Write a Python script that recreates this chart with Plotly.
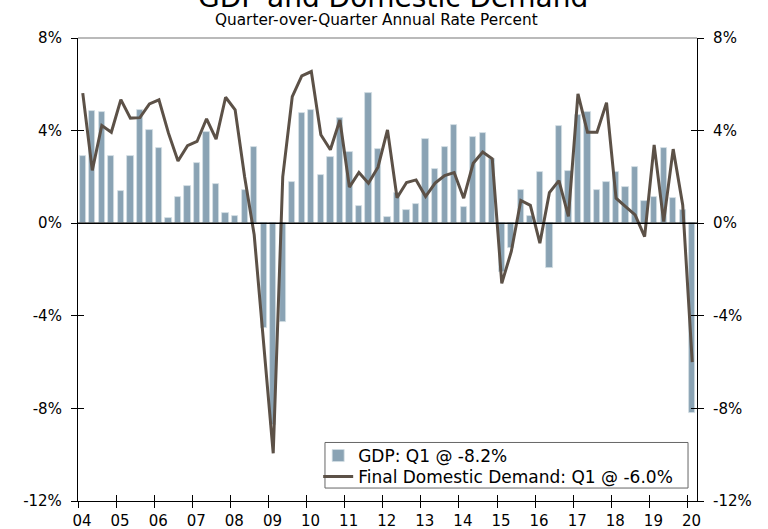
import plotly.graph_objects as go

start_year = 2004
years = list(range(2004, 2021))
year_labels = [f"{y % 100:02d}" for y in years]

gdp = [2.92, 4.85, 4.81, 2.89,
       1.38, 2.92, 4.91, 4.02,
       3.27, 0.23, 1.12, 1.60,
       2.58, 3.92, 1.68, 0.46,
       0.32, 1.44, 3.28, -4.51,
       -8.70, -4.25, 1.78, 4.75,
       4.89, 2.10, 2.85, 4.54,
       3.07, 0.76, 5.62, 3.20,
       0.26, 1.30, 0.58, 0.84,
       3.63, 2.33, 3.30, 4.26,
       0.68, 3.71, 3.89, 2.78,
       -2.10, -1.08, 1.44, 0.29,
       2.22, -1.94, 4.19, 2.27,
       4.68, 4.79, 1.43, 1.76,
       2.20, 1.56, 2.43, 0.96,
       1.14, 3.24, 1.11, 0.56,
       -8.20]

fdd = [5.62, 2.28, 4.22, 3.93,
       5.34, 4.54, 4.56, 5.15,
       5.33, 3.89, 2.69, 3.35,
       3.53, 4.51, 3.63, 5.44,
       4.90, 2.00, -0.50, -5.20,
       -9.94, 2.00, 5.47, 6.36,
       6.55, 3.82, 3.17, 4.46,
       1.56, 2.19, 1.73, 2.42,
       4.03, 1.10, 1.76, 1.87,
       1.15, 1.73, 2.06, 2.19,
       1.08, 2.59, 3.07, 2.78,
       -2.60, -1.22, 0.98, 0.77,
       -0.86, 1.32, 1.84, 0.29,
       5.59, 3.93, 3.93, 5.21,
       1.08, 0.72, 0.36, -0.58,
       3.38, 0.07, 3.20, 0.79,
       -6.00]

y_ticks = [-12, -8, -4, 0, 4, 8]
y_labels = [f"{v}%" for v in y_ticks]

x = [start_year + (i + 0.5) / 4 for i in range(len(gdp))]

FONT = "DejaVu Sans"
BAR = "#8aa3b4"
LINE = "#5c5147"

fig = go.Figure()
fig.add_trace(go.Bar(x=x, y=gdp, width=0.165, name="GDP: Q1 @ -8.2%", legend="legend",
                     marker=dict(color=BAR, line=dict(color="#d3dee5", width=0.8))))
fig.add_trace(go.Scatter(x=x, y=fdd, mode="lines", name="Final Domestic Demand: Q1 @ -6.0%",
                         legend="legend2", line=dict(color=LINE, width=3)))
# invisible helpers so the mirrored / inside-tick axes get drawn
for ya in ["y2", "y3", "y4"]:
    fig.add_trace(go.Scatter(x=x, y=fdd, xaxis="x2", yaxis=ya, mode="lines",
                             line=dict(width=0), opacity=0, showlegend=False,
                             hoverinfo="skip"))

common_y = dict(range=[-12, 8], tickvals=y_ticks, showgrid=False, zeroline=False,
                showline=True, linecolor="black", linewidth=1.2, tickcolor="black",
                ticklen=6, tickwidth=1.2, automargin=False)

leg_common = dict(xanchor="left", yanchor="middle", borderwidth=0,
                  bgcolor="rgba(0,0,0,0)", font=dict(size=17), itemwidth=30)

fig.update_layout(
    width=768, height=529,
    margin=dict(l=78, r=71, t=38, b=28, autoexpand=False),
    paper_bgcolor="white", plot_bgcolor="white",
    font=dict(family=FONT, size=15, color="black"),
    bargap=0,
    showlegend=True,
    legend=dict(x=0.388, y=0.0972, **leg_common),
    legend2=dict(x=0.388, y=0.0518, **leg_common),
    xaxis=dict(range=[2004, 2020.25], tickvals=years, ticktext=year_labels,
               showgrid=False, zeroline=False, showline=True, linecolor="black",
               linewidth=1.2, ticks="outside", ticklen=6, tickcolor="black",
               tickwidth=1.2, ticklabelshift=4, automargin=False),
    xaxis2=dict(range=[2004, 2020.25], tickvals=years, overlaying="x", side="bottom",
                anchor="y2", showticklabels=False, showgrid=False, zeroline=False,
                showline=False, ticks="inside", ticklen=6, tickcolor="black",
                tickwidth=1.2, automargin=False),
    yaxis=dict(ticktext=y_labels, ticks="outside", ticklabelstandoff=6, **common_y),
    yaxis2=dict(ticktext=y_labels, ticks="outside", overlaying="y", side="right",
                anchor="x2", ticklabelstandoff=6, **common_y),
    yaxis3=dict(ticks="inside", overlaying="y", side="left", anchor="x2",
                showticklabels=False, **common_y),
    yaxis4=dict(ticks="inside", overlaying="y", side="right", anchor="x2",
                showticklabels=False, **common_y),
)

fig.add_hline(y=0, line=dict(color="black", width=1.5), layer="above")
fig.add_shape(type="line", xref="paper", yref="paper", x0=0, x1=1, y0=1, y1=1,
              line=dict(color="#777777", width=1.2))
# legend frame
fig.add_shape(type="rect", xref="paper", yref="paper", x0=0.399, x1=0.9855,
              y0=0.028, y1=0.1264, line=dict(color="#666666", width=1),
              fillcolor="white", layer="above")

fig.add_annotation(text="GDP and Domestic Demand", xref="paper", yref="paper",
                   x=0.5, y=1 + 21.5 / 463, xanchor="center", yanchor="bottom",
                   xshift=5, showarrow=False, font=dict(size=28, family=FONT))
fig.add_annotation(text="Quarter-over-Quarter Annual Rate Percent", xref="paper",
                   yref="paper", x=0.5, y=1 + 7 / 463, xanchor="center",
                   yanchor="bottom", xshift=-11, showarrow=False,
                   font=dict(size=15.3, family=FONT))

fig.write_html("out.html", config={"displayModeBar": False},
               post_script="document.body.style.margin='0';document.body.style.overflow='hidden';")
